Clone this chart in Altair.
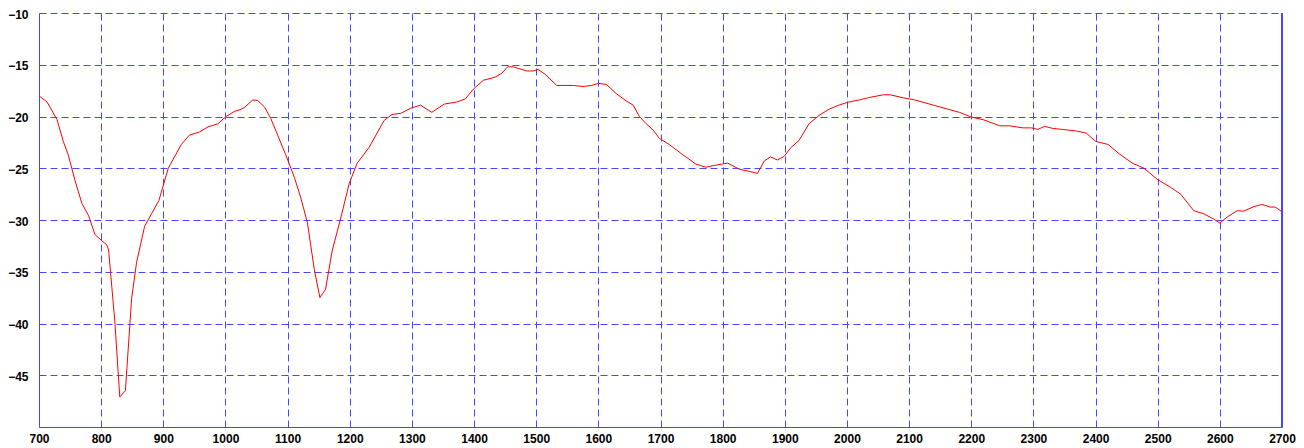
import altair as alt
import pandas as pd

wavenumber = [
    700, 713, 729, 739, 747, 758, 769, 780, 790, 801, 809, 812, 822, 830, 839, 849, 857,
    870, 881, 893, 908, 929, 942, 958, 972, 988, 1001, 1015, 1025, 1031, 1044, 1052,
    1063, 1073, 1084, 1097, 1111, 1121, 1132, 1143, 1152, 1161, 1172, 1186, 1199, 1212,
    1231, 1244, 1255, 1268, 1282, 1298, 1314, 1332, 1352, 1372, 1386, 1399, 1415, 1434,
    1445, 1454, 1463, 1485, 1495, 1503, 1514, 1533, 1560, 1575, 1589, 1600, 1613, 1629,
    1645, 1656, 1666, 1677, 1688, 1698, 1714, 1736, 1757, 1773, 1789, 1808, 1827, 1843,
    1856, 1867, 1877, 1888, 1899, 1909, 1923, 1939, 1955, 1971, 1987, 2003, 2020, 2037,
    2059, 2069, 2091, 2109, 2139, 2160, 2181, 2200, 2219, 2246, 2262, 2283, 2297, 2307,
    2318, 2331, 2347, 2369, 2385, 2400, 2420, 2438, 2459, 2478, 2500, 2521, 2537, 2558,
    2574, 2590, 2600, 2612, 2628, 2638, 2655, 2668, 2681, 2689, 2700,
]
level = [
    -18.0, -18.6, -20.3, -22.4, -23.7, -26.2, -28.4, -29.6, -31.4, -32.0, -32.4, -32.9,
    -39.8, -47.1, -46.5, -37.6, -34.1, -30.6, -29.4, -28.1, -25.0, -22.7, -21.8, -21.5,
    -21.0, -20.7, -20.0, -19.5, -19.3, -19.1, -18.4, -18.45, -19.1, -20.2, -21.8, -23.7,
    -25.9, -27.8, -30.3, -34.8, -37.5, -36.7, -32.9, -29.7, -26.5, -24.5, -23.0, -21.6,
    -20.4, -19.8, -19.7, -19.2, -18.9, -19.6, -18.8, -18.6, -18.3, -17.35, -16.5, -16.2,
    -15.8, -15.2, -15.2, -15.6, -15.6, -15.45, -15.9, -17.0, -17.0, -17.1, -17.0, -16.8,
    -16.9, -17.8, -18.5, -18.9, -20.0, -20.7, -21.3, -22.1, -22.7, -23.7, -24.6, -24.9,
    -24.7, -24.5, -25.1, -25.3, -25.5, -24.3, -23.9, -24.2, -23.85, -23.05, -22.3, -20.7,
    -19.9, -19.3, -18.9, -18.6, -18.4, -18.15, -17.9, -17.9, -18.2, -18.4, -18.9, -19.25,
    -19.6, -20.05, -20.3, -20.9, -20.9, -21.1, -21.1, -21.25, -20.95, -21.15, -21.25,
    -21.4, -21.6, -22.4, -22.7, -23.6, -24.5, -25.0, -26.1, -26.85, -27.5, -29.1, -29.4,
    -29.9, -30.3, -29.7, -29.1, -29.15, -28.7, -28.5, -28.75, -28.75, -29.2,
]

x_ticks = list(range(700, 2701, 100))
y_ticks = [-45, -40, -35, -30, -25, -20, -15, -10]

df = pd.DataFrame({"x": wavenumber, "y": level})

BLUE = "#4646ff"
FONT = "Liberation Sans"

x_axis = alt.Axis(
    values=x_ticks, format="d", grid=True, gridColor=BLUE, gridDash=[7, 4], gridWidth=1,
    ticks=False, domainColor=BLUE, domainWidth=1, labelFont=FONT, labelFontWeight="bold",
    labelFontSize=12, labelColor="black", labelPadding=6, labelFlush=False,
    labelOverlap=False, title=None,
)
y_axis = alt.Axis(
    values=y_ticks, format="d", grid=True, gridColor=BLUE, gridDash=[7, 4], gridWidth=1,
    ticks=False, domainColor=BLUE, domainWidth=1, labelFont=FONT, labelFontWeight="bold",
    labelFontSize=12, labelColor="black", labelPadding=11, labelOffset=1,
    labelOverlap=False, title=None,
)

xs = alt.Scale(domain=[700, 2700], nice=False, zero=False)
ys = alt.Scale(domain=[-50, -10], nice=False, zero=False)

line = alt.Chart(df).mark_line(color="#ff0000", strokeWidth=1).encode(
    x=alt.X("x:Q", scale=xs, axis=x_axis),
    y=alt.Y("y:Q", scale=ys, axis=y_axis),
)

right_border = alt.Chart(df).mark_rule(color=BLUE, strokeWidth=1).encode(
    x=alt.datum(2700, scale=xs),
    y=alt.datum(-50, scale=ys),
    y2=alt.datum(-10),
)

chart = (
    alt.layer(line, right_border)
    .properties(
        width=1243,
        height=414,
        autosize=alt.AutoSizeParams(type="none"),
        padding={"left": 31, "top": 5, "right": 14, "bottom": 22},
        background="white",
    )
    .configure_view(stroke=None)
)

chart.save("out.html", embed_options={"renderer": "svg", "actions": False})
